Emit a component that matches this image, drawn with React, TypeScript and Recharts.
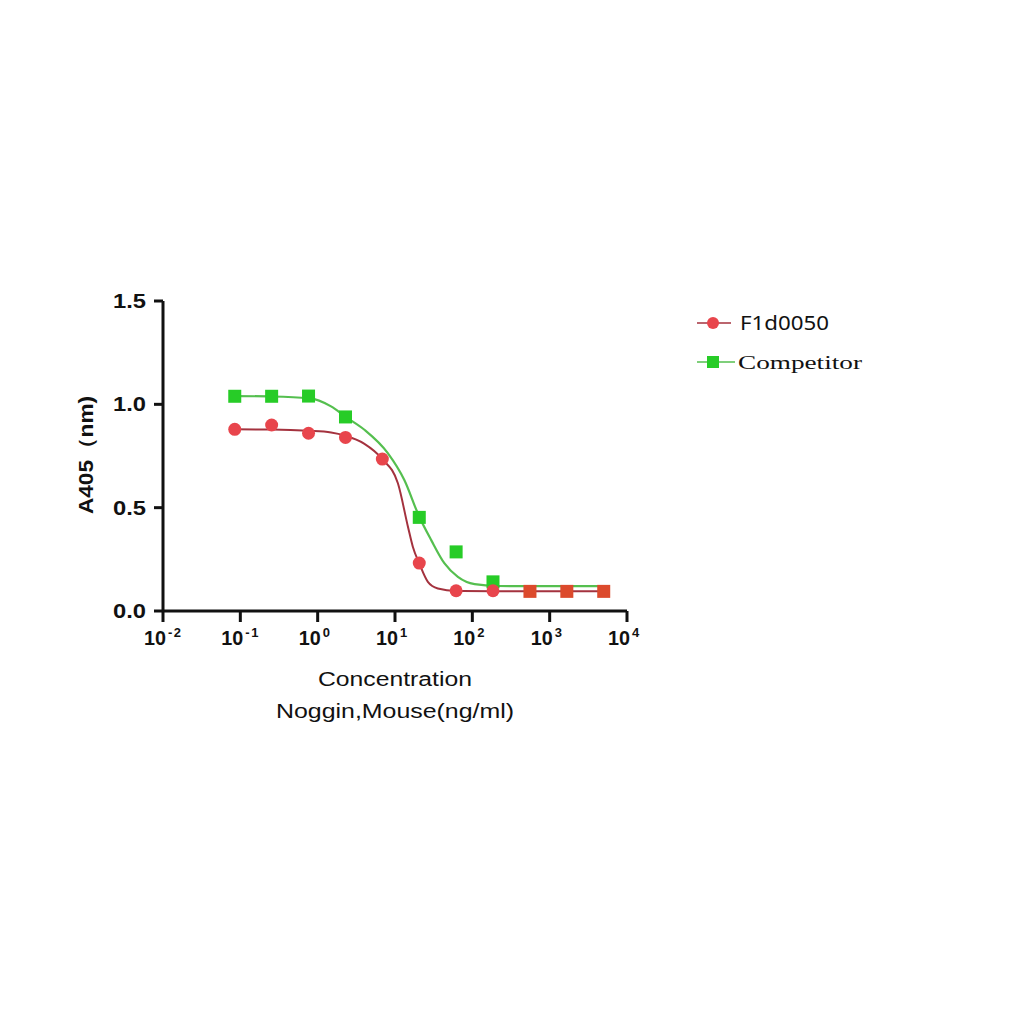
import React from "react";
import { ComposedChart, Line, Scatter, XAxis, YAxis } from "recharts";

const concentrations = [0.0847, 0.254, 0.762, 2.29, 6.86, 20.6, 61.7, 185, 556, 1667, 5000];
const f1d0050Values = [0.879, 0.9, 0.86, 0.84, 0.735, 0.232, 0.098, 0.098, 0.095, 0.095, 0.095];
const competitorValues = [1.039, 1.039, 1.04, 0.939, null, 0.453, 0.286, 0.141, null, null, null];

// fitted curve points
const f1d0050CurveX = [0.0847, 0.254, 0.762, 1.49, 2.29, 3.98, 6.86, 10.9, 14.7, 17.0, 20.6, 26.6, 35.8, 61.7, 185, 556, 1667, 5000];
const f1d0050CurveY = [0.879, 0.878, 0.872, 0.864, 0.848, 0.81, 0.735, 0.618, 0.408, 0.311, 0.23, 0.141, 0.109, 0.097, 0.096, 0.096, 0.096, 0.096];
const competitorCurveX = [0.0847, 0.254, 0.762, 1.49, 2.29, 4.02, 8.07, 13.2, 20.6, 29.4, 43.7, 65, 107, 214, 556, 1667, 5000];
const competitorCurveY = [1.04, 1.038, 1.03, 0.99, 0.94, 0.877, 0.764, 0.634, 0.456, 0.343, 0.23, 0.165, 0.13, 0.121, 0.12, 0.12, 0.12];

const xTicks = [0.01, 0.1, 1, 10, 100, 1000, 10000];
const yTicks = [0, 0.5, 1.0, 1.5];
const seriesNames = ["F1d0050", "Competitor"];

const redPts = concentrations.map((x, i) => ({ x, y: f1d0050Values[i] }));
const greenPts = concentrations
  .map((x, i) => ({ x, y: competitorValues[i] }))
  .filter((d) => d.y !== null);
const redCurve = f1d0050CurveX.map((x, i) => ({ x, y: f1d0050CurveY[i] }));
const greenCurve = competitorCurveX.map((x, i) => ({ x, y: competitorCurveY[i] }));

const RED = "#e8454c";
const RED_SQ = "#dc4a2c";
const RED_LINE = "#a4323e";
const GREEN = "#27cc27";
const GREEN_LINE = "#55bf4f";
const FONT = "Liberation Sans, Arial, sans-serif";

const XTick = (props: any) => {
  const { x, y, payload } = props;
  const exp = Math.round(Math.log10(payload.value));
  return (
    <g>
      <text x={x - 19} y={y + 21} textAnchor="start" fontFamily={FONT} fontWeight="bold" fontSize={20} fill="#111" textLength={22} lengthAdjust="spacingAndGlyphs">
        10
      </text>
      <text x={x + 5} y={y + 13} textAnchor="start" fontFamily={FONT} fontWeight="bold" fontSize={13} fill="#111" letterSpacing={exp < 0 ? 1.5 : 0}>
        {exp}
      </text>
    </g>
  );
};

const YTick = (props: any) => {
  const { x, y, payload } = props;
  const label = Number(payload.value).toFixed(1);
  return (
    <text x={x - 6} y={y + 7} textAnchor="end" fontFamily={FONT} fontWeight="bold" fontSize={20} fill="#111" textLength={33} lengthAdjust="spacingAndGlyphs">
      {label}
    </text>
  );
};

const RedShape = (props: any) => {
  const { cx, cy, payload } = props;
  if (payload && payload.x > 400) {
    return <rect x={cx - 6.5} y={cy - 6.5} width={13} height={13} fill={RED_SQ} />;
  }
  return <circle cx={cx} cy={cy} r={6.5} fill={RED} />;
};

const GreenShape = (props: any) => {
  const { cx, cy } = props;
  return <rect x={cx - 6.5} y={cy - 6.5} width={13} height={13} fill={GREEN} />;
};

const XLabel = (props: any) => {
  const vb = props.viewBox || {};
  const cx = vb.x + vb.width / 2;
  return (
    <g>
      <text x={cx} y={vb.y + 75} textAnchor="middle" fontFamily={FONT} fontSize={20} fill="#111" textLength={154} lengthAdjust="spacingAndGlyphs">Concentration</text>
      <text x={cx} y={vb.y + 107} textAnchor="middle" fontFamily={FONT} fontSize={20} fill="#111" textLength={238} lengthAdjust="spacingAndGlyphs">Noggin,Mouse(ng/ml)</text>
    </g>
  );
};

const YLabel = (props: any) => {
  const vb = props.viewBox || {};
  const cy = vb.y + vb.height / 2 - 1;
  const x = 80;
  return (
    <text x={x} y={cy} transform={`rotate(-90 ${x} ${cy})`} textAnchor="middle" dominantBaseline="middle" fontFamily={FONT} fontWeight="bold" fontSize={20} fill="#111" textLength={118} lengthAdjust="spacingAndGlyphs">
      A405（nm)
    </text>
  );
};

const LegendOverlay = () => (
  <svg width={220} height={80} style={{ position: "absolute", left: 687, top: 300 }}>
    <line x1={2} y1={15} x2={36} y2={15} stroke={RED_LINE} strokeWidth={1.5} />
    <circle cx={18} cy={15} r={6} fill={RED} />
    <line x1={2} y1={54} x2={40} y2={54} stroke={GREEN_LINE} strokeWidth={1.5} />
    <rect x={12} y={48} width={12} height={12} fill={GREEN} />
    <text x={45} y={22} fontFamily="Noto Sans, DejaVu Sans, sans-serif" fontSize={19} fill="#111" textLength={89} lengthAdjust="spacingAndGlyphs">{seriesNames[0]}</text>
    <text x={43} y={61} fontFamily="Liberation Serif, DejaVu Serif, serif" fontSize={19} fill="#111" textLength={124} lengthAdjust="spacingAndGlyphs">{seriesNames[1]}</text>
  </svg>
);

export default function App() {
  return (
    <div style={{ position: "relative", width: 1000, height: 800, background: "#fff" }}>
      <ComposedChart width={1000} height={800} margin={{ top: 293, right: 381, bottom: 167, left: 95 }}>
        <XAxis
          dataKey="x"
          type="number"
          scale="log"
          domain={[0.01, 10000]}
          ticks={xTicks}
          allowDataOverflow
          axisLine={{ stroke: "#111", strokeWidth: 3 }}
          tickLine={{ stroke: "#111", strokeWidth: 3 }}
          tickSize={11}
          tick={<XTick />}
          height={30}
          label={<XLabel />}
        />
        <YAxis
          type="number"
          domain={[0, 1.5]}
          ticks={yTicks}
          axisLine={{ stroke: "#111", strokeWidth: 3 }}
          tickLine={{ stroke: "#111", strokeWidth: 3 }}
          tickSize={9}
          tick={<YTick />}
          width={60}
          label={<YLabel />}
        />
        <Line data={greenCurve} dataKey="y" type="monotone" stroke={GREEN_LINE} strokeWidth={2.2} dot={false} isAnimationActive={false} />
        <Line data={redCurve} dataKey="y" type="monotone" stroke={RED_LINE} strokeWidth={2} dot={false} isAnimationActive={false} />
        <Scatter data={greenPts} dataKey="y" shape={<GreenShape />} isAnimationActive={false} />
        <Scatter data={redPts} dataKey="y" shape={<RedShape />} isAnimationActive={false} />
      </ComposedChart>
      <LegendOverlay />
    </div>
  );
}
